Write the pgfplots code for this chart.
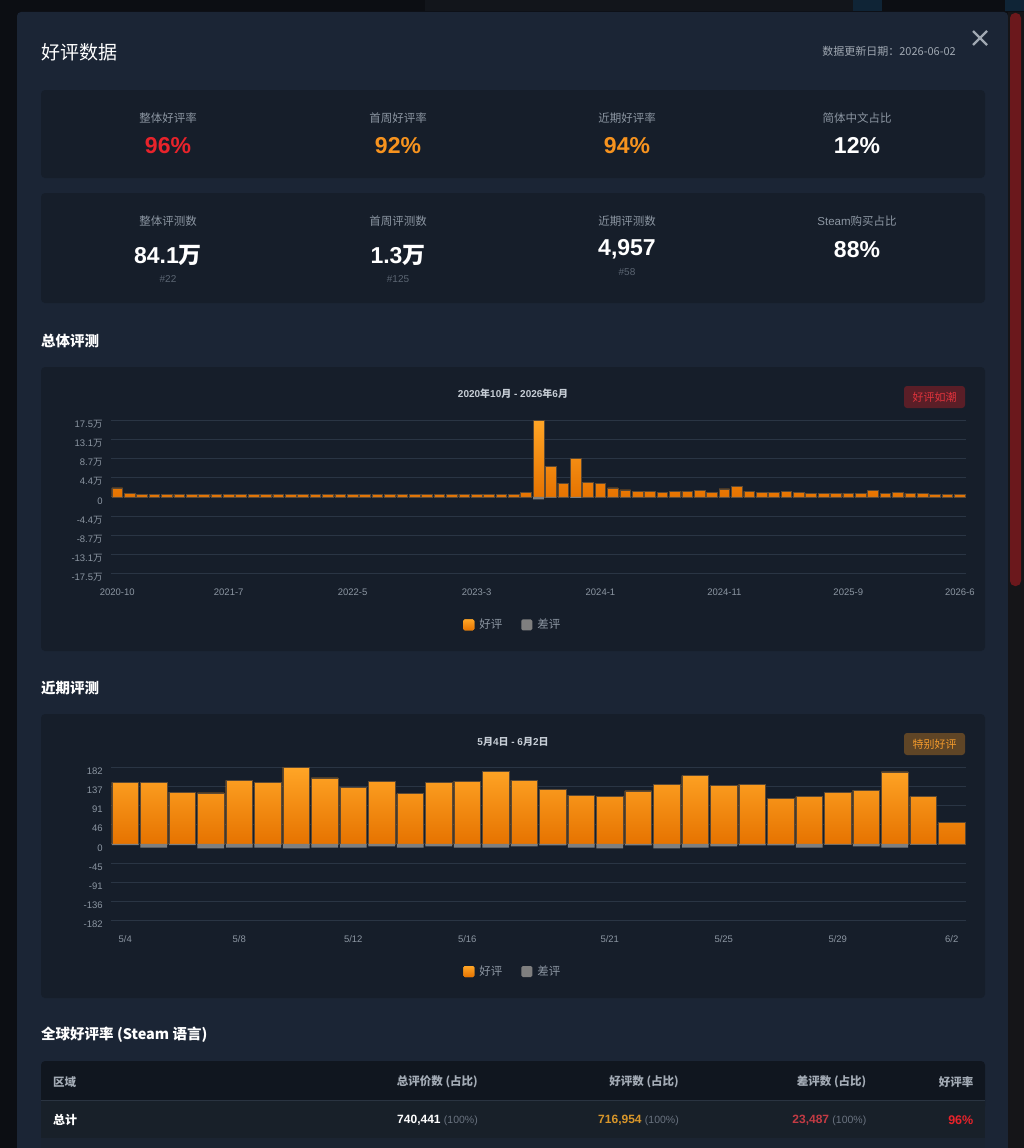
\documentclass[border=0pt]{standalone}
\usepackage{fontspec}
\setmainfont{Liberation Sans}
\newfontfamily\cjk{Noto Sans CJK SC}
\usepackage{pgfplots}
\usepackage{pgfplotstable}
\pgfplotsset{compat=1.18}
\newcommand\fs[1]{\fontsize{#1}{#1}\selectfont}
\definecolor{pagebg}{HTML}{0C0E13}
\definecolor{navbox}{HTML}{12151B}
\definecolor{navbtn}{HTML}{0F2436}
\definecolor{modalbg}{HTML}{1B2535}
\definecolor{cardbg}{HTML}{161E2A}
\definecolor{gridc}{HTML}{2A3544}
\definecolor{lbl}{HTML}{8C96A2}
\definecolor{dim}{HTML}{5B6572}
\definecolor{pct}{HTML}{6A7380}
\definecolor{redv}{HTML}{E8232B}
\definecolor{orangev}{HTML}{F7931E}
\definecolor{ctitle}{HTML}{C6CDD5}
\definecolor{badgered}{HTML}{5A1E27}
\definecolor{badgeredtext}{HTML}{E0333C}
\definecolor{badgeor}{HTML}{5F4526}
\definecolor{badgeortext}{HTML}{F39A2C}
\definecolor{thead}{HTML}{10161F}
\definecolor{trow}{HTML}{182029}
\definecolor{trowb}{HTML}{1B2431}
\definecolor{tline}{HTML}{2A3441}
\definecolor{trackc}{HTML}{151518}
\definecolor{thumbc}{HTML}{6B181C}
\definecolor{closec}{HTML}{A0A8B2}
\definecolor{headtxt}{HTML}{A4ACB6}
\definecolor{goldv}{HTML}{D8962A}
\definecolor{redt}{HTML}{C23B44}
\definecolor{negbar}{HTML}{7F7F7F}
\definecolor{bartop}{HTML}{FFA526}
\definecolor{barbot}{HTML}{E67300}
\definecolor{baredge}{HTML}{5C4934}

\pgfplotstableread{
x good bad
0 20600 -300
1 7700 -300
2 5400 -300
3 5400 -300
4 5400 -300
5 5400 -300
6 5400 -300
7 5400 -300
8 5400 -300
9 5400 -300
10 5400 -300
11 5400 -300
12 5400 -300
13 5400 -300
14 5400 -300
15 5400 -300
16 5400 -300
17 5400 -300
18 5400 -300
19 5400 -300
20 5400 -300
21 5400 -300
22 5400 -300
23 5400 -300
24 5400 -300
25 5400 -300
26 5400 -300
27 5400 -300
28 5400 -300
29 5400 -300
30 5400 -300
31 5400 -300
32 5400 -300
33 10000 -400
34 175000 -6000
35 68700 -2000
36 31300 -1000
37 88600 -2200
38 33600 -1000
39 31300 -1000
40 20600 -700
41 16000 -500
42 12300 -400
43 12300 -400
44 9200 -300
45 12300 -400
46 12300 -400
47 14600 -400
48 9200 -300
49 18300 -500
50 22900 -600
51 12300 -400
52 10000 -300
53 10000 -300
54 12300 -400
55 10000 -300
56 7700 -300
57 7700 -300
58 7700 -300
59 7700 -300
60 7700 -300
61 14600 -400
62 7700 -300
63 10000 -300
64 7700 -300
65 7700 -300
66 5400 -300
67 5400 -300
68 5400 -300
}\monthly

\pgfplotstableread{
x good bad
0 146 -3
1 146 -9
2 123 -3
3 121 -11
4 151 -9
5 146 -9
6 182 -11
7 157 -9
8 135 -9
9 149 -6
10 119 -9
11 146 -6
12 149 -9
13 173 -9
14 151 -6
15 130 -4
16 116 -9
17 112 -11
18 126 -4
19 142 -11
20 162 -9
21 139 -6
22 142 -4
23 108 -4
24 112 -9
25 123 -2
26 128 -6
27 171 -9
28 112 -2
29 51 -1
}\daily

\pgfplotsset{
  chartstyle/.style={
    anchor=south west, scale only axis, width=855pt, height=153pt,
    ybar, bar shift=0pt,
    axis line style={draw=none}, major tick length=0pt,
    scaled y ticks=false,
    ymajorgrids, grid style={gridc, line width=0.7pt},
    tick label style={text=lbl, font=\fs{9.5}},
    yticklabel style={xshift=-4.8pt, yshift=-4pt},
    xticklabel style={yshift=-12pt},
    legend style={draw=none, fill=none, anchor=center, legend columns=2,
      font=\cjk\fs{11.5}, text=lbl,
      /tikz/every odd column/.append style={column sep=3pt},
      /tikz/every even column/.append style={column sep=17pt}},
    legend image code/.code={\fill[##1, draw=none, rounded corners=1.5pt] (0pt,-5.5pt) rectangle (11pt,5.5pt);},
    clip=false,
  },
  goodbar/.style={fill=bartop, top color=bartop, bottom color=barbot, draw=baredge, line width=0.6pt, bar shift=0pt},
  badbar/.style={fill=negbar, draw=none, bar shift=0pt},
}

\begin{document}
\begin{tikzpicture}
\begin{scope}[x=1pt,y=-1pt]
\useasboundingbox (0,0) rectangle (1024,1148);
\fill[pagebg] (0,0) rectangle (1024,1148);
\fill[navbox] (425,0) rectangle (853,11);
\fill[navbtn] (853,0) rectangle (882,11);
\fill[navbtn] (1005,0) rectangle (1024,11);
\fill[modalbg, rounded corners=4pt] (17,12) rectangle (1008,1170);
\fill[trackc] (1008,12) rectangle (1024,1148);
\fill[thumbc, rounded corners=5pt] (1010,13) rectangle (1021,586);
% header
\node[anchor=west, inner sep=0pt, text=white, font=\cjk\fs{19}] at (41,52) {好评数据};
\node[anchor=east, inner sep=0pt, text=closec, font=\cjk\fs{11}] at (956,51) {数据更新日期：2026-06-02};
\draw[closec, line width=2.2pt] (973,31)--(987,45) (987,31)--(973,45);
% KPI cards
\fill[cardbg, rounded corners=4pt] (41,90) rectangle (985,178);
\fill[cardbg, rounded corners=4pt] (41,193) rectangle (985,303);
\foreach \x/\t in {168/整体好评率, 398/首周好评率, 627/近期好评率, 857/简体中文占比}
  \node[inner sep=0pt, text=lbl, font=\cjk\fs{11.5}] at (\x,118) {\t};
\node[inner sep=0pt, text=redv, font=\bfseries\fs{23}] at (168,146) {96\%};
\node[inner sep=0pt, text=orangev, font=\bfseries\fs{23}] at (398,146) {92\%};
\node[inner sep=0pt, text=orangev, font=\bfseries\fs{23}] at (627,146) {94\%};
\node[inner sep=0pt, text=white, font=\bfseries\fs{23}] at (857,146) {12\%};
\foreach \x/\t in {168/整体评测数, 398/首周评测数, 627/近期评测数}
  \node[inner sep=0pt, text=lbl, font=\cjk\fs{11.5}] at (\x,221) {\t};
\node[inner sep=0pt, text=lbl, font=\fs{11.5}] at (857,221) {Steam{\cjk 购买占比}};
\node[inner sep=0pt, text=white, font=\bfseries\fs{23}] at (168,255) {84.1{\cjk 万}};
\node[inner sep=0pt, text=white, font=\bfseries\fs{23}] at (398,255) {1.3{\cjk 万}};
\node[inner sep=0pt, text=white, font=\bfseries\fs{23}] at (627,249) {4,957};
\node[inner sep=0pt, text=white, font=\bfseries\fs{23}] at (857,250) {88\%};
\node[inner sep=0pt, text=dim, font=\fs{10}] at (168,279) {\#22};
\node[inner sep=0pt, text=dim, font=\fs{10}] at (398,279) {\#125};
\node[inner sep=0pt, text=dim, font=\fs{10}] at (627,272) {\#58};
% section 1
\node[anchor=west, inner sep=0pt, text=white, font=\cjk\bfseries\fs{14.5}] at (41,341) {总体评测};
\fill[cardbg, rounded corners=4pt] (41,367) rectangle (985,651);
\node[inner sep=0pt, text=ctitle, font=\bfseries\fs{10}] at (513,394) {2020{\cjk 年}10{\cjk 月} - 2026{\cjk 年}6{\cjk 月}};
\fill[badgered, rounded corners=3pt] (904,386) rectangle (965,408);
\node[inner sep=0pt, text=badgeredtext, font=\cjk\fs{11}] at (934.5,397) {好评如潮};
% section 2
\node[anchor=west, inner sep=0pt, text=white, font=\cjk\bfseries\fs{14.5}] at (41,688) {近期评测};
\fill[cardbg, rounded corners=4pt] (41,714) rectangle (985,998);
\node[inner sep=0pt, text=ctitle, font=\bfseries\fs{10}] at (513,742) {5{\cjk 月}4{\cjk 日} - 6{\cjk 月}2{\cjk 日}};
\fill[badgeor, rounded corners=3pt] (904,733) rectangle (965,755);
\node[inner sep=0pt, text=badgeortext, font=\cjk\fs{11}] at (934.5,744) {特别好评};
% table
\node[anchor=west, inner sep=0pt, text=white, font=\cjk\bfseries\fs{14.5}] at (41,1035) {全球好评率 (Steam 语言)};
\fill[thead, rounded corners=4pt] (41,1061) rectangle (985,1110);
\fill[trow] (41,1100) rectangle (985,1138);
\fill[trowb] (41,1138) rectangle (985,1148);
\draw[tline, line width=1pt] (41,1100)--(985,1100);
\node[anchor=west, inner sep=0pt, text=headtxt, font=\cjk\bfseries\fs{11.5}] at (53,1082) {区域};
\node[anchor=east, inner sep=0pt, text=headtxt, font=\cjk\bfseries\fs{11.5}] at (478,1082) {总评价数 (占比)};
\node[anchor=east, inner sep=0pt, text=headtxt, font=\cjk\bfseries\fs{11.5}] at (679,1082) {好评数 (占比)};
\node[anchor=east, inner sep=0pt, text=headtxt, font=\cjk\bfseries\fs{11.5}] at (866.5,1082) {差评数 (占比)};
\node[anchor=east, inner sep=0pt, text=headtxt, font=\cjk\bfseries\fs{11.5}] at (973.5,1082) {好评率};
\node[anchor=west, inner sep=0pt, text=white, font=\cjk\bfseries\fs{12}] at (53,1120) {总计};
\node[anchor=east, inner sep=0pt, font=\fs{12}] at (478,1120) {\textcolor{white}{\bfseries 740,441} \textcolor{pct}{\fs{10.5}(100\%)}};
\node[anchor=east, inner sep=0pt, font=\fs{12}] at (679,1120) {\textcolor{goldv}{\bfseries 716,954} \textcolor{pct}{\fs{10.5}(100\%)}};
\node[anchor=east, inner sep=0pt, font=\fs{12}] at (866.5,1120) {\textcolor{redt}{\bfseries 23,487} \textcolor{pct}{\fs{10.5}(100\%)}};
\node[anchor=east, inner sep=0pt, text=redv, font=\bfseries\fs{12.5}] at (973.5,1120) {96\%};
\end{scope}

\begin{axis}[chartstyle, at={(111pt,-573.3pt)},
  xmin=-0.5, xmax=68.5, ymin=-175000, ymax=175000,
  bar width=0.86,
  ytick={-175000,-131250,-87500,-43750,0,43750,87500,131250,175000},
  yticklabels={-17.5{\cjk 万},-13.1{\cjk 万},-8.7{\cjk 万},-4.4{\cjk 万},0,4.4{\cjk 万},8.7{\cjk 万},13.1{\cjk 万},17.5{\cjk 万}},
  xtick={0,9,19,29,39,49,59,68},
  xticklabels={2020-10,2021-7,2022-5,2023-3,2024-1,2024-11,2025-9,2026-6},
  legend style={at={(0.470,-0.337)}}]
\addplot[goodbar] table[x=x,y=good]{\monthly};
\addplot[badbar] table[x=x,y=bad]{\monthly};
\legend{好评,差评}
\end{axis}

\begin{axis}[chartstyle, at={(111pt,-920.3pt)},
  xmin=-0.5, xmax=29.5, ymin=-182, ymax=182,
  bar width=0.937,
  ytick={-182,-136.5,-91,-45.5,0,45.5,91,136.5,182},
  yticklabels={-182,-136,-91,-45,0,46,91,137,182},
  xtick={0,4,8,12,17,21,25,29},
  xticklabels={5/4,5/8,5/12,5/16,5/21,5/25,5/29,6/2},
  legend style={at={(0.470,-0.335)}}]
\addplot[goodbar] table[x=x,y=good]{\daily};
\addplot[badbar] table[x=x,y=bad]{\daily};
\legend{好评,差评}
\end{axis}
\end{tikzpicture}
\end{document}
